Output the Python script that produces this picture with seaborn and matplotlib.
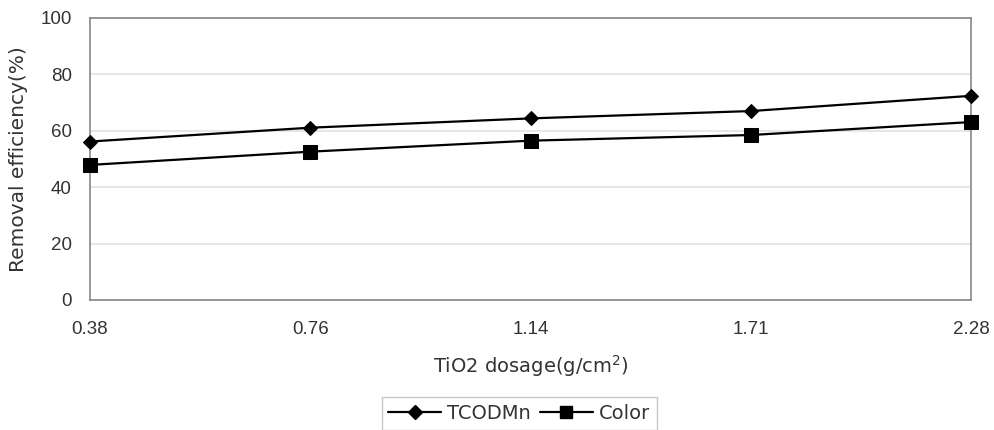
import matplotlib
matplotlib.use("Agg")
import matplotlib.pyplot as plt
import seaborn as sns
import pandas as pd
from matplotlib.lines import Line2D

dosage = ["0.38", "0.76", "1.14", "1.71", "2.28"]
tcodmn = [56.2, 61.1, 64.4, 67.0, 72.4]
color = [47.9, 52.6, 56.5, 58.5, 63.1]
series_names = ["TCODMn", "Color"]

rows = []
for name, vals in zip(series_names, [tcodmn, color]):
    for i, (d, v) in enumerate(zip(dosage, vals)):
        rows.append({"pos": i, "dosage": d, "value": v, "series": name})
df = pd.DataFrame(rows)

sns.set_theme(style="white")
plt.rcParams["font.family"] = ["Liberation Sans", "DejaVu Sans"]

fig = plt.figure(figsize=(9.94, 4.30), dpi=100)
ax = fig.add_axes([90/994, 130/430, 881/994, 282/430])

sns.lineplot(data=df, x="pos", y="value", hue="series", style="series",
             markers={"TCODMn": "D", "Color": "s"}, dashes=False,
             palette={"TCODMn": "black", "Color": "black"},
             markersize=8, linewidth=1.6, markeredgecolor="black",
             ax=ax, legend=False)
for line, ms in zip(ax.lines, [7, 10]):
    line.set_markersize(ms)
    line.set_clip_on(False)
    line.set_zorder(5)

ax.set_xlim(0, len(dosage) - 1)
ax.set_ylim(0, 100)
ax.set_xticks(range(len(dosage)))
ax.set_xticklabels(dosage)
ax.set_yticks([0, 20, 40, 60, 80, 100])
ax.yaxis.grid(True, color="#e2e2e2", linewidth=1.2)
ax.set_axisbelow(True)
for s in ax.spines.values():
    s.set_color("#888888")
    s.set_linewidth(1.2)
ax.tick_params(axis="x", direction="in", length=5, color="#d0d0d0", width=1,
               labelsize=13.5, labelcolor="#333333", pad=15)
ax.tick_params(axis="y", length=0, labelsize=13.5, labelcolor="#333333", pad=13)
ax.set_xlabel("TiO2 dosage(g/cm$^2$)", fontsize=14, color="#333333", labelpad=11,
              family="DejaVu Sans")
ax.set_ylabel("Removal efficiency(%)", fontsize=14.5, color="#333333", labelpad=9,
              family="DejaVu Sans")

handles = [Line2D([], [], color="black", marker="D", markersize=7, linewidth=1.6),
           Line2D([], [], color="black", marker="s", markersize=9, linewidth=1.6)]
leg = fig.legend(handles, series_names, loc="upper center",
                 bbox_to_anchor=(519/994, 1 - 397/430), ncol=2, frameon=True,
                 fancybox=False, prop={"family": "DejaVu Sans", "size": 14},
                 handlelength=2.7, handletextpad=0.3, borderaxespad=0,
                 columnspacing=0.5, borderpad=0.35, edgecolor="#bbbbbb")
leg.get_frame().set_linewidth(1.0)
for t in leg.get_texts():
    t.set_color("#333333")

fig.savefig("out.png", dpi=100)
